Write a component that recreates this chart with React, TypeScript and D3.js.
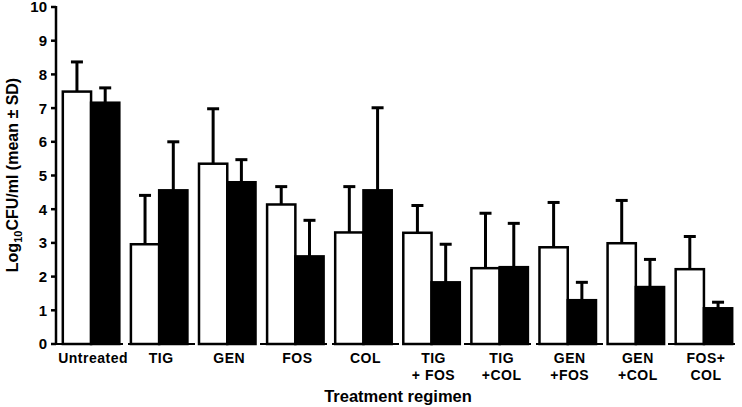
import React from "react";
import * as d3 from "d3";

const categories = ["Untreated", "TIG", "GEN", "FOS", "COL", "TIG\n+ FOS", "TIG\n+COL", "GEN\n+FOS", "GEN\n+COL", "FOS+\nCOL"];
const whiteMeans = [7.49, 2.96, 5.35, 4.14, 3.31, 3.3, 2.25, 2.87, 2.99, 2.22];
const whiteUpper = [8.37, 4.41, 6.98, 4.67, 4.67, 4.11, 3.88, 4.2, 4.26, 3.19];
const blackMeans = [7.16, 4.56, 4.8, 2.6, 4.56, 1.83, 2.28, 1.3, 1.69, 1.06];
const blackUpper = [7.6, 6.0, 5.47, 3.67, 7.01, 2.96, 3.58, 1.83, 2.51, 1.24];
const yTicks = [0, 1, 2, 3, 4, 5, 6, 7, 8, 9, 10];

export default function App() {
  const W = 742, H = 407;
  const x0 = 56, x1 = 739;
  const y = d3.scaleLinear().domain([0, 10]).range([344, 7]);
  const x = d3.scaleBand<string>().domain(categories).range([x0, x1]).paddingInner(0.17).paddingOuter(0.1);
  const bw = x.bandwidth() / 2;
  const font = "'Liberation Sans', Arial, sans-serif";
  const series = [
    { means: whiteMeans, upper: whiteUpper, fill: "#fff", off: 0 },
    { means: blackMeans, upper: blackUpper, fill: "#000", off: bw },
  ];
  return (
    <svg width={W} height={H} style={{ position: "absolute", left: 0, top: 0, background: "#fff" }} fontFamily={font}>
      <line x1={x0} x2={x1} y1={y(0)} y2={y(0)} stroke="#000" strokeWidth={2} strokeDasharray="7,5" />
      {series.map((s, si) =>
        categories.map((c, i) => {
          const bx = (x(c) as number) + s.off;
          const cx = bx + bw / 2;
          return (
            <g key={si + "-" + i}>
              <line x1={cx} x2={cx} y1={y(s.means[i])} y2={y(s.upper[i])} stroke="#000" strokeWidth={3} />
              <line x1={cx - 6} x2={cx + 6} y1={y(s.upper[i])} y2={y(s.upper[i])} stroke="#000" strokeWidth={3} />
              <rect x={bx} y={y(s.means[i])} width={bw} height={y(0) - y(s.means[i])} fill={s.fill} stroke="#000" strokeWidth={2.5} />
            </g>
          );
        })
      )}
      <line x1={x0} x2={x0} y1={y(10) - 1} y2={y(0) + 1} stroke="#000" strokeWidth={2.5} />
      {yTicks.map((t) => (
        <g key={t}>
          <line x1={x0 - 5} x2={x0} y1={y(t)} y2={y(t)} stroke="#000" strokeWidth={2.5} />
          <text x={x0 - 9} y={y(t)} dy="0.36em" textAnchor="end" fontSize={15} fontWeight="bold">{t}</text>
        </g>
      ))}
      {categories.map((c) => {
        const lines = c.split("\n");
        const cx = (x(c) as number) + x.bandwidth() / 2;
        return (
          <text key={c} textAnchor="middle" fontSize={14} fontWeight="bold" letterSpacing={0.5}>
            {lines.map((l, j) => (
              <tspan key={j} x={cx + 2} y={363 + j * 17}>{l}</tspan>
            ))}
          </text>
        );
      })}
      <text x={398} y={402} textAnchor="middle" fontSize={16.5} fontWeight="bold">Treatment regimen</text>
      <text transform={`translate(18,175) rotate(-90)`} textAnchor="middle" fontSize={16} fontWeight="bold">
        Log<tspan fontSize={11} dy={4}>10</tspan><tspan dy={-4}>CFU/ml (mean ± SD)</tspan>
      </text>
    </svg>
  );
}
